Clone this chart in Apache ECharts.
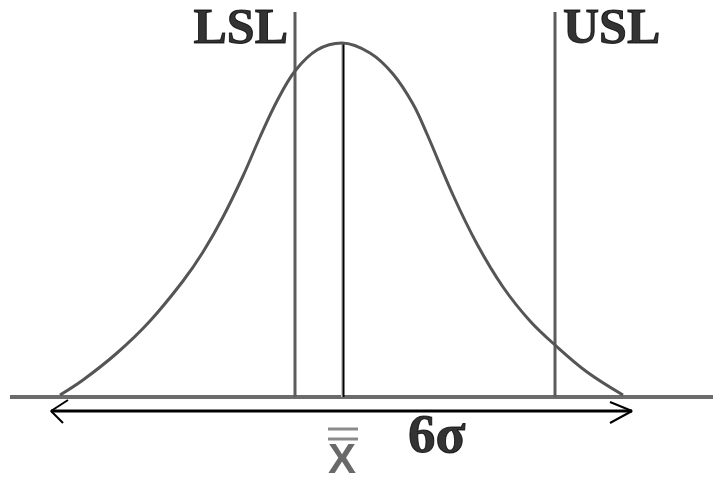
<!DOCTYPE html>
<html>
<head>
<meta charset="utf-8">
<script src="https://cdn.jsdelivr.net/npm/echarts@6/dist/echarts.min.js"></script>
<style>
  html, body { margin: 0; padding: 0; background: #fff; }
  #chart { width: 713px; height: 481px; }
</style>
</head>
<body>
<div id="chart"></div>
<script>
// bell curve (x position, height above the baseline)
const curveX = [60, 83, 117, 150, 183, 203, 223, 243, 260, 277, 295, 317, 342, 370, 393, 413, 427, 453, 477, 503, 530, 555, 587, 623];
const curveH = [2, 17, 44, 76, 116, 145, 180, 221, 260, 296, 326, 347, 354, 344, 323, 293, 263, 202, 153, 110, 76, 52, 25, 2];

// spec limits and the mean
const limitNames = ["LSL", "USL"];
const limitX = [295, 555];
const limitTop = 385;
const meanX = 343;
const meanTop = 354;

// baseline and the 6 sigma span arrow
const baseSpan = [10, 713];
const arrowSpan = [51, 632];
const arrowY = -14;

const chartDom = document.getElementById("chart");
const myChart = echarts.init(chartDom);

function seg(a, b) {
  return { type: "line", data: [a, b], showSymbol: false, silent: true, animation: false };
}

const series = [];

// baseline
series.push(Object.assign(seg([baseSpan[0], 0], [baseSpan[1], 0]), {
  lineStyle: { color: "#6b6b6b", width: 4 }
}));

// LSL / USL lines
limitX.forEach(function (x) {
  series.push(Object.assign(seg([x, 0], [x, limitTop]), {
    lineStyle: { color: "#5c5c5c", width: 3 }
  }));
});

// mean line
series.push(Object.assign(seg([meanX - 1, 0], [meanX - 1, meanTop]), {
  lineStyle: { color: "#c8c8c8", width: 2 }
}));
series.push(Object.assign(seg([meanX + 0.5, 0], [meanX + 0.5, meanTop]), {
  lineStyle: { color: "#000", width: 2 }
}));

// the curve
series.push({
  type: "line",
  data: curveX.map(function (x, i) { return [x, curveH[i]]; }),
  smooth: 0.35,
  showSymbol: false,
  silent: true,
  animation: false,
  lineStyle: { color: "#555", width: 3 }
});

// arrow shaft and open heads
series.push(Object.assign(seg([arrowSpan[0], arrowY], [arrowSpan[1], arrowY]), {
  lineStyle: { color: "#000", width: 3 }
}));
series.push({
  type: "line", showSymbol: false, silent: true, animation: false,
  data: [[arrowSpan[0] + 17, arrowY + 11], [arrowSpan[0], arrowY], [arrowSpan[0] + 12, arrowY - 12]],
  lineStyle: { color: "#000", width: 2 }
});
series.push({
  type: "line", showSymbol: false, silent: true, animation: false,
  data: [[arrowSpan[1] - 22, arrowY + 9], [arrowSpan[1], arrowY], [arrowSpan[1] - 22, arrowY - 12]],
  lineStyle: { color: "#000", width: 2 }
});

// double bar over the X
[-32, -42].forEach(function (y) {
  series.push(Object.assign(seg([meanX - 15, y], [meanX + 15, y]), {
    lineStyle: { color: "#8a8a8a", width: 3 }
  }));
});

// text labels
const serifBold = {
  show: true,
  fontFamily: "Liberation Serif",
  fontWeight: "bold",
  fontSize: 50,
  color: "#000",
  textBorderColor: "#000",
  textBorderWidth: 1,
  verticalAlign: "middle"
};
series.push({
  type: "scatter",
  symbolSize: 0,
  silent: true,
  animation: false,
  data: [
    { value: [limitX[0] - 7, 367], label: Object.assign({}, serifBold, { formatter: limitNames[0], position: "inside", align: "right" }) },
    { value: [limitX[1] + 8, 367], label: Object.assign({}, serifBold, { formatter: limitNames[1], position: "inside", align: "left" }) },
    { value: [408, -41], label: Object.assign({}, serifBold, { formatter: "6σ", fontSize: 55, position: "inside", align: "left" }) },
    { value: [meanX - 1, -64], label: { show: true, formatter: "X", position: "inside", align: "center", verticalAlign: "middle",
        fontFamily: "Liberation Sans", fontWeight: "bold", fontSize: 42, color: "#444" } }
  ]
});

myChart.setOption({
  animation: false,
  grid: { left: 0, right: 0, top: 0, bottom: 0 },
  xAxis: { type: "value", min: 0, max: 713, show: false },
  yAxis: { type: "value", min: -84, max: 397, show: false },
  series: series
});
</script>
</body>
</html>
